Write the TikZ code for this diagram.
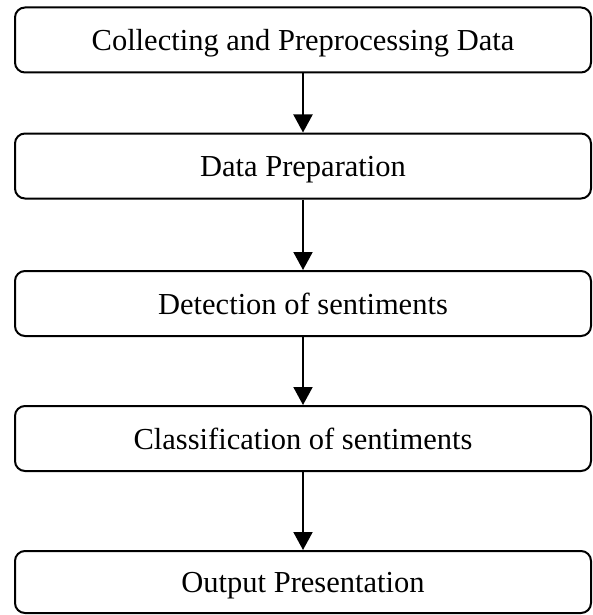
\documentclass[tikz,border=0pt]{standalone}
\usepackage{fontspec}
\setmainfont{Liberation Serif}
\usetikzlibrary{arrows.meta}

\begin{document}
\begin{tikzpicture}[x=1pt,y=1pt]
		\tikzstyle{stage}=[draw=black, line width=2pt, rounded corners=10pt, minimum width=576pt, minimum height=65pt, inner sep=0pt, text height=21pt, text depth=0pt, font=\fontsize{30.5}{33}\selectfont]
		\tikzstyle{flow}=[draw=black, line width=2pt, -{Triangle[length=18pt,width=19pt]}]
		\useasboundingbox (0,0) rectangle (592,-615);
		\node [stage] (collect) at (303,-40) {Collecting and Preprocessing Data};
		\node [stage] (prep) at (303,-166) {Data Preparation};
		\node [stage] (detect) at (303,-303.5) {Detection of sentiments};
		\node [stage] (classify) at (303,-438.5) {Classification of sentiments};
		\node [stage, minimum height=62pt] (output) at (303,-582) {Output Presentation};
		\draw [flow] (collect) -- (prep);
		\draw [flow] (prep) -- (detect);
		\draw [flow] (detect) -- (classify);
		\draw [flow] (classify) -- (output);
\end{tikzpicture}
\end{document}
